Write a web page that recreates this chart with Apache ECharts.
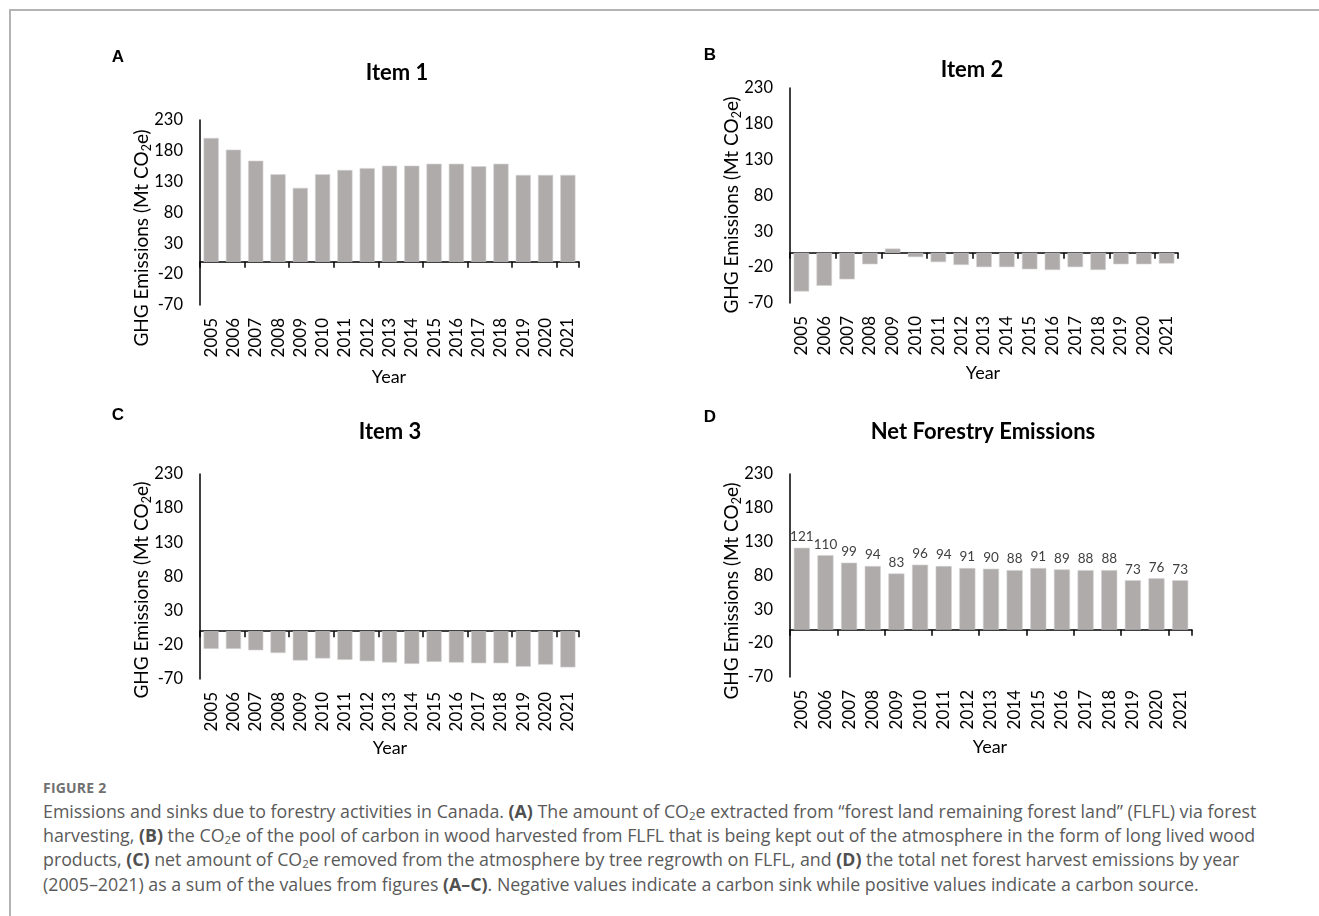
<!DOCTYPE html>
<html>
<head>
<meta charset="utf-8">
<script src="https://cdn.jsdelivr.net/npm/echarts@6/dist/echarts.min.js"></script>
<style>
  html, body { margin: 0; padding: 0; width: 1319px; height: 916px; overflow: hidden; background: #fff; }
  #frame { position: absolute; left: 9px; top: 9px; width: 1400px; height: 1000px; border-left: 2px solid #b4b4b4; border-top: 2px solid #b4b4b4; }
  #chart { position: absolute; left: 0; top: 0; width: 1319px; height: 760px; }
  #caption { position: absolute; left: 43px; top: 777px; font-family: "Open Sans", "Noto Sans", sans-serif; color: #5a5a5a; white-space: nowrap; }
  #caption .fig { font-size: 14px; font-weight: 700; color: #707070; line-height: 22px; letter-spacing: 0.2px; }
  #caption .txt { font-size: 17.8px; line-height: 24.2px; }
  #caption b { font-weight: 700; color: #505050; }
  #caption sub { font-size: 11.5px; vertical-align: -2px; line-height: 0; }
</style>
</head>
<body>
<div id="frame"></div>
<div id="chart"></div>
<div id="caption">
  <div class="fig">FIGURE 2</div>
  <div class="txt">Emissions and sinks due to forestry activities in Canada. <b>(A)</b> The amount of CO<sub>2</sub>e extracted from “forest land remaining forest land” (FLFL) via forest</div>
  <div class="txt">harvesting, <b>(B)</b> the CO<sub>2</sub>e of the pool of carbon in wood harvested from FLFL that is being kept out of the atmosphere in the form of long lived wood</div>
  <div class="txt">products, <b>(C)</b> net amount of CO<sub>2</sub>e removed from the atmosphere by tree regrowth on FLFL, and <b>(D)</b> the total net forest harvest emissions by year</div>
  <div class="txt">(2005–2021) as a sum of the values from figures <b>(A–C)</b>. Negative values indicate a carbon sink while positive values indicate a carbon source.</div>
</div>
<script>
// ---- data ----
const years = ['2005','2006','2007','2008','2009','2010','2011','2012','2013','2014','2015','2016','2017','2018','2019','2020','2021'];
const item1 = [201,182,164,142,120,142,149,152,156,156,159,159,155,159,141,141,141];
const item2 = [-54,-46,-37,-16,6,-6,-13,-17,-20,-20,-23,-24,-20,-24,-16,-16,-15];
const item3 = [-26,-26,-28,-32,-43,-40,-42,-44,-46,-48,-45,-46,-47,-47,-52,-49,-53];
const netForestry = [121,110,99,94,83,96,94,91,90,88,91,89,88,88,73,76,73];
const yTicks = [-70,-20,30,80,130,180,230];
const titles = ['Item 1','Item 2','Item 3','Net Forestry Emissions'];
const letters = ['A','B','C','D'];

// ---- layout ----
const FONT = 'Lato, "Noto Sans", sans-serif';
const panels = [
  { grid: {left:200, top:120, width:379, height:185}, letter:[118,57], title:[397,73], yname:[142,238], xname:[389,377], labels:false, data:item1 },
  { grid: {left:790, top:88,  width:388, height:215}, letter:[710,55], title:[972,70], yname:[732,205], xname:[983,373], labels:false, data:item2 },
  { grid: {left:200, top:474, width:379, height:205}, letter:[118,415], title:[390,432], yname:[142,590], xname:[390,748], labels:false, data:item3 },
  { grid: {left:790, top:474, width:402, height:203}, letter:[710,417], title:[983,432], yname:[732,591], xname:[990,747], labels:true, data:netForestry }
];

const grids = [], xAxes = [], yAxes = [], series = [], graphics = [];
panels.forEach((p, i) => {
  grids.push(Object.assign({ containLabel: false }, p.grid));
  // axis line at zero with ticks
  xAxes.push({
    type: 'category', gridIndex: i, data: years, position: 'bottom',
    axisLine: { show: true, onZero: true, lineStyle: { color: '#000', width: 1.5 } },
    axisTick: { show: true, inside: false, length: 6, alignWithLabel: false, lineStyle: { color: '#000', width: 1.5 } },
    axisLabel: { show: false }, splitLine: { show: false }
  });
  // labels at bottom of plot
  xAxes.push({
    type: 'category', gridIndex: i, data: years, position: 'bottom',
    axisLine: { show: false, onZero: false }, axisTick: { show: false },
    axisLabel: { show: true, rotate: 90, fontSize: 17, color: '#000', fontFamily: FONT, margin: 13, interval: 0 },
    splitLine: { show: false }
  });
  yAxes.push({
    type: 'value', gridIndex: i, min: yTicks[0], max: yTicks[yTicks.length - 1],
    axisLine: { show: true, lineStyle: { color: '#000', width: 1.5 } },
    axisTick: { show: false },
    splitLine: { show: false },
    axisLabel: { show: true, customValues: yTicks, fontSize: 16.5, color: '#000', fontFamily: FONT, margin: 17 }
  });
  series.push({
    type: 'bar', xAxisIndex: 2 * i, yAxisIndex: i, data: p.data,
    barCategoryGap: '32%',
    itemStyle: { color: '#AFABAB', borderColor: '#D4D2D2', borderWidth: 0.6 },
    label: { show: p.labels, position: 'top', distance: 4, fontSize: 13.5, color: '#404040', fontFamily: FONT },
    emphasis: { disabled: true }, silent: true, z: 1
  });
  graphics.push({ type: 'text', x: p.letter[0], y: p.letter[1], style: { text: letters[i], font: 'bold 17px "Liberation Sans", Arial, sans-serif', fill: '#000', align: 'center', verticalAlign: 'middle' } });
  graphics.push({ type: 'text', x: p.title[0], y: p.title[1], style: { text: titles[i], fontFamily: FONT, fontWeight: 'bold', fontSize: 22, fill: '#000', align: 'center', verticalAlign: 'middle' } });
  graphics.push({ type: 'text', x: p.xname[0], y: p.xname[1], style: { text: 'Year', fontFamily: FONT, fontSize: 18, fill: '#000', align: 'center', verticalAlign: 'middle' } });
  graphics.push({ type: 'text', x: p.yname[0], y: p.yname[1], rotation: Math.PI / 2,
    style: { text: 'GHG Emissions (Mt CO{s|2}e)', fontFamily: FONT, fontSize: 19, fill: '#000', align: 'center', verticalAlign: 'middle', lineHeight: 22,
      rich: { s: { fontSize: 12.5, fontFamily: FONT, fill: '#000', verticalAlign: 'bottom', lineHeight: 22, padding: [10, 0, 0, 0] } } } });
});

const chart = echarts.init(document.getElementById('chart'), null, { renderer: 'canvas' });
chart.setOption({
  animation: false,
  grid: grids, xAxis: xAxes, yAxis: yAxes, series: series, graphic: graphics
});
</script>
</body>
</html>
